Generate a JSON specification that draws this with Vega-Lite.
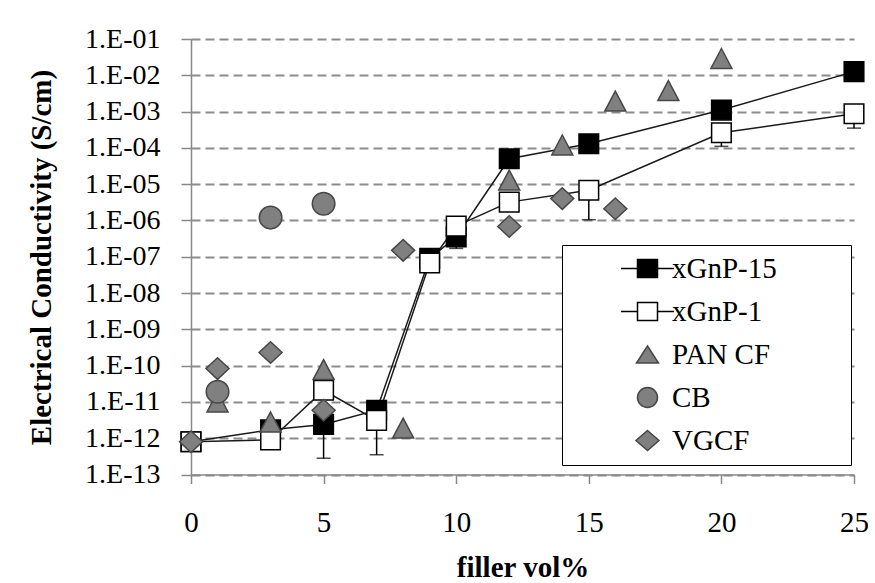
{
  "$schema": "https://vega.github.io/schema/vega-lite/v6.json",
  "width": 663,
  "height": 435.5,
  "autosize": {"type": "none"},
  "padding": {"left": 191, "top": 39, "right": 21, "bottom": 108.5},
  "background": "white",
  "datasets": {
    "points": [
      {"series": "xGnP-15", "vol": 0, "sigma": 8e-13},
      {"series": "xGnP-15", "vol": 3, "sigma": 1.7e-12},
      {"series": "xGnP-15", "vol": 5, "sigma": 2.4e-12},
      {"series": "xGnP-15", "vol": 7, "sigma": 5.9e-12},
      {"series": "xGnP-15", "vol": 9, "sigma": 9e-8},
      {"series": "xGnP-15", "vol": 10, "sigma": 3.5e-7},
      {"series": "xGnP-15", "vol": 12, "sigma": 5e-5},
      {"series": "xGnP-15", "vol": 15, "sigma": 1.3e-4},
      {"series": "xGnP-15", "vol": 20, "sigma": 1.1e-3},
      {"series": "xGnP-15", "vol": 25, "sigma": 1.26e-2},
      {"series": "xGnP-1", "vol": 0, "sigma": 8e-13},
      {"series": "xGnP-1", "vol": 3, "sigma": 9e-13},
      {"series": "xGnP-1", "vol": 5, "sigma": 2.1e-11},
      {"series": "xGnP-1", "vol": 7, "sigma": 3.1e-12},
      {"series": "xGnP-1", "vol": 9, "sigma": 6.7e-8},
      {"series": "xGnP-1", "vol": 10, "sigma": 7e-7},
      {"series": "xGnP-1", "vol": 12, "sigma": 3.2e-6},
      {"series": "xGnP-1", "vol": 15, "sigma": 6.8e-6},
      {"series": "xGnP-1", "vol": 20, "sigma": 2.6e-4},
      {"series": "xGnP-1", "vol": 25, "sigma": 8.7e-4},
      {"series": "PAN CF", "vol": 1, "sigma": 1e-11},
      {"series": "PAN CF", "vol": 3, "sigma": 2.8e-12},
      {"series": "PAN CF", "vol": 5, "sigma": 7.8e-11},
      {"series": "PAN CF", "vol": 8, "sigma": 1.9e-12},
      {"series": "PAN CF", "vol": 12, "sigma": 1.3e-5},
      {"series": "PAN CF", "vol": 14, "sigma": 1.2e-4},
      {"series": "PAN CF", "vol": 16, "sigma": 1.95e-3},
      {"series": "PAN CF", "vol": 18, "sigma": 3.8e-3},
      {"series": "PAN CF", "vol": 20, "sigma": 2.9e-2},
      {"series": "CB", "vol": 1, "sigma": 1.9e-11},
      {"series": "CB", "vol": 3, "sigma": 1.2e-6},
      {"series": "CB", "vol": 5, "sigma": 2.9e-6},
      {"series": "VGCF", "vol": 0, "sigma": 8e-13},
      {"series": "VGCF", "vol": 1, "sigma": 8.3e-11},
      {"series": "VGCF", "vol": 3, "sigma": 2.3e-10},
      {"series": "VGCF", "vol": 5, "sigma": 5.9e-12},
      {"series": "VGCF", "vol": 8, "sigma": 1.5e-7},
      {"series": "VGCF", "vol": 12, "sigma": 6.8e-7},
      {"series": "VGCF", "vol": 14, "sigma": 4e-6},
      {"series": "VGCF", "vol": 16, "sigma": 2.1e-6}
    ],
    "errors": [
      {"series": "xGnP-15", "vol": 5, "sigma": 2.4e-12, "low": 2.8e-13},
      {"series": "xGnP-15", "vol": 10, "sigma": 3.5e-7, "low": 1.7e-7},
      {"series": "xGnP-1", "vol": 7, "sigma": 3.1e-12, "low": 3.5e-13},
      {"series": "xGnP-1", "vol": 15, "sigma": 6.8e-6, "low": 1.05e-6},
      {"series": "xGnP-1", "vol": 20, "sigma": 2.6e-4, "low": 1.1e-4},
      {"series": "xGnP-1", "vol": 25, "sigma": 8.7e-4, "low": 3.5e-4}
    ]
  },
  "config": {
    "view": {"stroke": null},
    "font": "Liberation Serif",
    "axisX": {
      "labelFont": "Liberation Serif", "labelFontSize": 29, "labelColor": "black",
      "labelBaseline": "alphabetic", "labelPadding": 48, "labelFlush": false, "labelOverlap": false,
      "tickSize": 9, "tickColor": "#888888", "tickWidth": 1.5,
      "domainColor": "#888888", "domainWidth": 1.5, "grid": false,
      "titleFont": "Liberation Serif", "titleFontWeight": "bold", "titleFontSize": 29, "titleColor": "black",
      "titleBaseline": "alphabetic", "titleY": 101.5
    },
    "axisY": {
      "labelFont": "Liberation Serif", "labelFontSize": 28, "labelColor": "black",
      "labelPadding": 21, "labelFlush": false, "labelOverlap": false,
      "tickSize": 10, "tickColor": "#888888", "tickWidth": 1.5,
      "domainColor": "#888888", "domainWidth": 1.5,
      "grid": true, "gridColor": "#8c8c8c", "gridDash": [9, 5], "gridWidth": 2,
      "titleFont": "Liberation Serif", "titleFontWeight": "bold", "titleFontSize": 29, "titleColor": "black",
      "titleAngle": 270, "titleX": -141, "titleY": 218, "titleAlign": "center", "titleBaseline": "alphabetic"
    }
  },
  "resolve": {"scale": {"shape": "independent", "fill": "independent", "stroke": "independent"}},
  "layer": [
    {
      "data": {"name": "points"},
      "transform": [{"filter": "datum.series == 'xGnP-15' || datum.series == 'xGnP-1'"}],
      "mark": {"type": "line", "color": "#1a1a1a", "strokeWidth": 1.5, "clip": false},
      "encoding": {
        "x": {"field": "vol", "type": "quantitative", "title": "filler vol%",
              "scale": {"domain": [0, 25], "nice": false, "zero": false},
              "axis": {"values": [0, 5, 10, 15, 20, 25], "title": "filler vol%"}},
        "y": {"field": "sigma", "type": "quantitative", "title": "Electrical Conductivity  (S/cm)",
              "scale": {"type": "log", "domain": [1e-13, 0.1], "nice": false},
              "axis": {"title": "Electrical Conductivity  (S/cm)",
                       "values": [1e-13, 1e-12, 1e-11, 1e-10, 1e-9, 1e-8, 1e-7, 1e-6, 1e-5, 1e-4, 1e-3, 1e-2, 1e-1],
                       "labelExpr": "'1.E-' + (round(-log(datum.value)/LN10) < 10 ? '0' : '') + round(-log(datum.value)/LN10)"}},
        "detail": {"field": "series"}
      }
    },
    {
      "data": {"name": "errors"},
      "mark": {"type": "errorbar", "ticks": {"size": 14, "thickness": 1.5, "color": "black"}, "rule": {"strokeWidth": 1.5, "color": "black"}, "clip": false},
      "encoding": {
        "x": {"field": "vol", "type": "quantitative", "title": "filler vol%"},
        "y": {"field": "low", "type": "quantitative", "title": "Electrical Conductivity  (S/cm)"},
        "y2": {"field": "sigma"}
      }
    },
    {
      "data": {"name": "points"},
      "mark": {"type": "point", "filled": true, "opacity": 1, "size": 400, "strokeWidth": 1.5, "clip": false},
      "encoding": {
        "x": {"field": "vol", "type": "quantitative", "title": "filler vol%"},
        "y": {"field": "sigma", "type": "quantitative", "title": "Electrical Conductivity  (S/cm)"},
        "shape": {"field": "series", "type": "nominal", "legend": null,
                  "scale": {"domain": ["xGnP-15", "xGnP-1", "PAN CF", "CB", "VGCF"],
                            "range": ["M-0.98,-0.98H0.98V0.98H-0.98Z", "M-0.98,-0.98H0.98V0.98H-0.98Z", "M0,-1L1.05,1H-1.05Z", "M1.13,0A1.13,1.13,0,1,1,-1.13,0A1.13,1.13,0,1,1,1.13,0Z", "M0,-1.08L1.15,0L0,1.08L-1.15,0Z"]}},
        "fill": {"field": "series", "type": "nominal", "legend": null,
                 "scale": {"domain": ["xGnP-15", "xGnP-1", "PAN CF", "CB", "VGCF"],
                           "range": ["#000000", "#ffffff", "#808080", "#808080", "#808080"]}},
        "stroke": {"field": "series", "type": "nominal", "legend": null,
                   "scale": {"domain": ["xGnP-15", "xGnP-1", "PAN CF", "CB", "VGCF"],
                             "range": ["#000000", "#000000", "#474747", "#474747", "#474747"]}}
      }
    },
    {
      "data": {"name": "points"},
      "mark": {"type": "point", "filled": true, "opacity": 0, "size": 400, "strokeWidth": 1.5, "clip": false},
      "encoding": {
        "x": {"field": "vol", "type": "quantitative", "title": "filler vol%"},
        "y": {"field": "sigma", "type": "quantitative", "title": "Electrical Conductivity  (S/cm)"},
        "shape": {"field": "series", "type": "nominal",
                  "scale": {"domain": ["xGnP-15", "xGnP-1", "PAN CF", "CB", "VGCF"],
                            "range": ["M-2.65,0H-1M1,0H2.65M-1,-0.9H1V0.9H-1Z", "M-2.65,0H-1M1,0H2.65M-1,-0.9H1V0.9H-1Z", "M0,-0.85L1.1,0.85H-1.1Z", "circle", "M0,-1L1.15,0L0,1L-1.15,0Z"]},
                  "legend": {
                    "orient": "none", "legendX": 371, "legendY": 206,
                    "title": ".", "titleOrient": "right", "titleColor": "white", "titleFontSize": 10, "titlePadding": 62,
                    "strokeColor": "black", "fillColor": "white", "padding": 9,
                    "symbolSize": 400, "symbolStrokeWidth": 1.5, "symbolOpacity": 1, "symbolOffset": 62,
                    "labelFont": "Liberation Serif", "labelFontSize": 29, "labelColor": "black",
                    "labelOffset": 10, "labelLimit": 400, "rowPadding": 13
                  }},
        "fill": {"field": "series", "type": "nominal",
                 "scale": {"domain": ["xGnP-15", "xGnP-1", "PAN CF", "CB", "VGCF"],
                           "range": ["#000000", "#ffffff", "#808080", "#808080", "#808080"]}},
        "stroke": {"field": "series", "type": "nominal",
                   "scale": {"domain": ["xGnP-15", "xGnP-1", "PAN CF", "CB", "VGCF"],
                             "range": ["#000000", "#000000", "#474747", "#474747", "#474747"]}}
      }
    }
  ]
}
